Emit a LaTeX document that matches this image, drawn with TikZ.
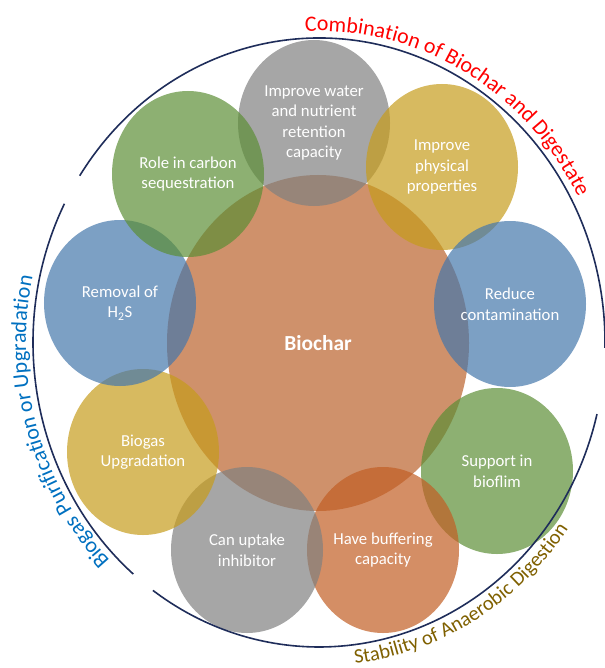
\documentclass[tikz,border=0pt]{standalone}
\usepackage{fontspec}
\setmainfont{Carlito}
\usetikzlibrary{decorations.text,shapes.geometric}
\definecolor{ringline}{RGB}{31,45,90}
\definecolor{core}{RGB}{207,145,107}
\definecolor{cgray}{RGB}{128,128,128}
\definecolor{cgreen}{RGB}{92,142,54}
\definecolor{cblue}{RGB}{69,119,171}
\definecolor{cyellow}{RGB}{198,156,28}
\definecolor{corange}{RGB}{194,94,36}
\definecolor{lblred}{RGB}{255,0,0}
\definecolor{lblblue}{RGB}{0,112,192}
\definecolor{lblgold}{RGB}{127,96,0}
\newcommand\redfmt{\color{lblred}\fontsize{22}{26}\selectfont}
\newcommand\bluefmt{\color{lblblue}\fontsize{22}{26}\selectfont}
\newcommand\goldfmt{\color{lblgold}\fontsize{20.5}{24}\selectfont}
\tikzset{
  ring/.style={draw=ringline, line width=1.6bp},
  bub/.style={ellipse, inner sep=0pt, minimum width=152bp, minimum height=166bp,
    fill opacity=0.7, text opacity=1, text=white, align=center,
    font=\fontsize{16.8}{20.7}\selectfont},
  corebub/.style={ellipse, inner sep=0pt, minimum width=302bp, minimum height=336bp,
    fill=core, text=white, font=\fontsize{21.5}{25}\selectfont\bfseries},
  arclabel/.style={decorate, decoration={text along path, text align=left, text={#1}}}
}
\begin{document}
\begin{tikzpicture}[x=1bp,y=1bp]
\useasboundingbox (0,0) rectangle (605,-668);
\coordinate (O) at (319,-342.5);

\node[corebub] (core) at (318,-343) {Biochar};

\node[bub, fill=cgray]   (water)  at (314,-123) {Improve water\\and nutrient\\retention\\capacity};
\node[bub, fill=cyellow] (phys)   at (442,-167) {Improve\\physical\\properties};
\node[bub, fill=cblue]   (contam) at (510,-304) {Reduce\\contamination};
\node[bub, fill=cgreen]  (biofl)  at (497,-471) {Support in\\bioflim};
\node[bub, fill=corange] (buff)   at (383,-550) {Have buffering\\capacity};
\node[bub, fill=cgray]   (inhib)  at (247,-550) {Can uptake\\inhibitor};
\node[bub, fill=cyellow] (upgr)   at (143,-452) {Biogas\\Upgradation};
\node[bub, fill=cblue]   (hts)    at (120,-303) {Removal of\\H\textsubscript{2}S};
\node[bub, fill=cgreen]  (carbon) at (188,-174) {Role in carbon\\sequestration};

\draw[ring] (O) ++(146.8:286 and 304.5) arc (146.8:-1:286 and 304.5);
\draw[ring] (O) ++(152.9:286 and 304.5) arc (152.9:229.5:286 and 304.5);
\draw[ring] (O) ++(234.5:286 and 304.5) arc (234.5:346.4:286 and 304.5);

\path[arclabel={|\redfmt|Combination of Biochar and Digestate}]
  (O) ++(92.7:293 and 311.5) arc (92.7:-30:293 and 311.5);
\path[arclabel={|\bluefmt|Biogas Purification or Upgradation}]
  (O) ++(224.5:293 and 311.5) arc (224.5:120:293 and 311.5);
\path[arclabel={|\goldfmt|Stability of Anaerobic Digestion}]
  (O) ++(-83.2:305 and 323.5) arc (-83.2:20:305 and 323.5);
\end{tikzpicture}
\end{document}
